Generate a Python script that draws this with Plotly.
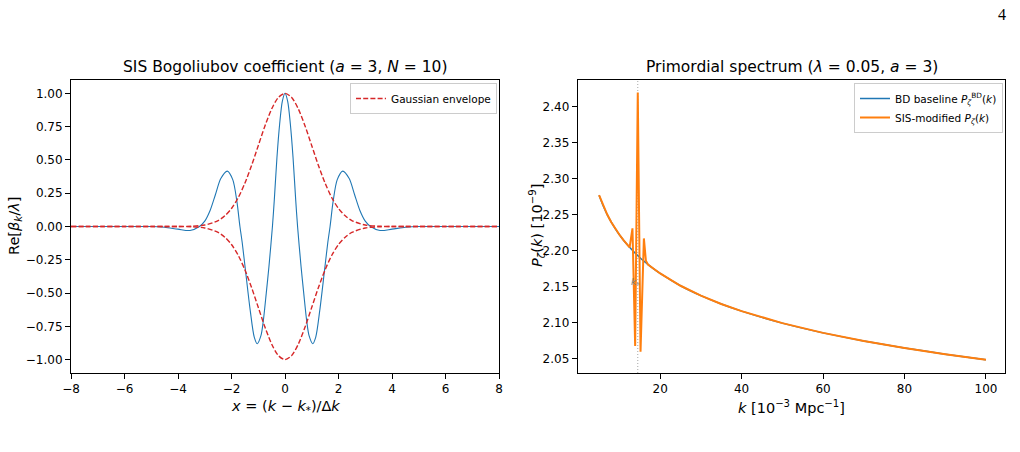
import plotly.graph_objects as go

# ---------------- data: left panel ----------------
x_blue = [-8, -7, -6, -5, -4.5, -4.0, -3.55, -3.2, -3.0, -2.8, -2.6, -2.4, -2.157, -1.95, -1.8, -1.685,
          -1.6, -1.47, -1.3, -1.15, -1.035, -0.9, -0.81, -0.7, -0.6, -0.47, -0.4, -0.3, -0.2, -0.1, 0.0,
          0.1, 0.2, 0.3, 0.4, 0.47, 0.6, 0.7, 0.81, 0.9, 1.035, 1.15, 1.3, 1.47, 1.6, 1.685, 1.8, 1.95,
          2.157, 2.4, 2.6, 2.8, 3.0, 3.2, 3.55, 4.0, 4.5, 5, 6, 7, 8]
re_beta = [0.0, 0.0, 0.0, 0.0, -0.006, -0.02, -0.03, 0.0, 0.04, 0.12, 0.24, 0.36, 0.416, 0.35, 0.19, 0.0,
           -0.12, -0.343, -0.63, -0.83, -0.88, -0.82, -0.707, -0.5, -0.3, 0.0, 0.2, 0.52, 0.77, 0.94, 1.0,
           0.94, 0.77, 0.52, 0.2, 0.0, -0.3, -0.5, -0.707, -0.82, -0.88, -0.83, -0.63, -0.343, -0.12, 0.0, 0.19, 0.35,
           0.416, 0.36, 0.24, 0.12, 0.04, 0.0, -0.03, -0.02, -0.006, 0.0, 0.0, 0.0, 0.0]

x_env = [-8, -6, -5, -4.5, -4, -3.5, -3, -2.5, -2.25, -2, -1.75, -1.5, -1.25, -1, -0.75, -0.5, -0.25, 0,
         0.25, 0.5, 0.75, 1, 1.25, 1.5, 1.75, 2, 2.25, 2.5, 3, 3.5, 4, 4.5, 5, 6, 8]
env_upper = [0.0, 0.0, 0.0, 0.0, 0.0003, 0.0022, 0.011, 0.044, 0.080, 0.135, 0.216, 0.325, 0.458, 0.607, 0.755, 0.882, 0.969, 1.0,
             0.969, 0.882, 0.755, 0.607, 0.458, 0.325, 0.216, 0.135, 0.080, 0.044, 0.011, 0.0022, 0.0003, 0.0, 0.0, 0.0, 0.0]
env_lower = [-v for v in env_upper]

# ---------------- data: right panel ----------------
k_bd = [5, 6, 7, 8, 9, 10, 11, 12, 13, 14, 15, 16, 17, 18, 20, 25, 30, 35, 40, 50, 60, 70, 80, 90, 100]
p_bd = [2.2769, 2.2623, 2.2500, 2.2395, 2.2303, 2.2220, 2.2145, 2.2078, 2.2016, 2.1959, 2.1906, 2.1855,
        2.1809, 2.1765, 2.1684, 2.1514, 2.1377, 2.1261, 2.1162, 2.0996, 2.0861, 2.0749, 2.0652, 2.0566, 2.049]

k_sis = [5, 6, 7, 8, 9, 10, 11, 12, 12.5, 13.2, 13.86, 14.5, 15.18, 16.0, 16.5, 17, 18, 20, 25, 30, 35,
         40, 50, 60, 70, 80, 90, 100]
p_sis = [2.2769, 2.2623, 2.2500, 2.2395, 2.2303, 2.2220, 2.2145, 2.2078, 2.2047, 2.231, 2.068, 2.419, 2.060,
         2.217, 2.186, 2.1809, 2.1765, 2.1684, 2.1514, 2.1377, 2.1261, 2.1162, 2.0996, 2.0861, 2.0749, 2.0652,
         2.0566, 2.049]

k_star = 14.5

left_xticks = [-8, -6, -4, -2, 0, 2, 4, 6, 8]
left_yticks = [-1.0, -0.75, -0.5, -0.25, 0.0, 0.25, 0.5, 0.75, 1.0]
right_xticks = [20, 40, 60, 80, 100]
right_yticks = [2.05, 2.10, 2.15, 2.20, 2.25, 2.30, 2.35, 2.40]

W, H = 1020, 452
FONT = "DejaVu Sans"
BLUE = "#1f77b4"
ORANGE = "#ff7f0e"
RED = "#d62728"

fig = go.Figure()

# left panel
fig.add_trace(go.Scatter(x=x_blue, y=re_beta, mode="lines", line=dict(color=BLUE, width=1.1, shape="spline", smoothing=0.8),
                         showlegend=False, xaxis="x", yaxis="y"))
fig.add_trace(go.Scatter(x=x_env, y=env_upper, mode="lines", name="Gaussian envelope",
                         line=dict(color=RED, width=1.4, dash="5px,2.2px", shape="spline", smoothing=0.8),
                         legend="legend", xaxis="x", yaxis="y"))
fig.add_trace(go.Scatter(x=x_env, y=env_lower, mode="lines", showlegend=False,
                         line=dict(color=RED, width=1.4, dash="5px,2.2px", shape="spline", smoothing=0.8),
                         xaxis="x", yaxis="y"))

# right panel
fig.add_trace(go.Scatter(x=k_bd, y=p_bd, mode="lines", name="BD baseline <i>P</i><sub><i>ζ</i></sub><sup>BD</sup>(<i>k</i>)",
                         line=dict(color=BLUE, width=1.5, shape="spline", smoothing=0.5),
                         legend="legend2", xaxis="x2", yaxis="y2"))
fig.add_trace(go.Scatter(x=k_sis, y=p_sis, mode="lines", name="SIS-modified <i>P</i><sub><i>ζ</i></sub>(<i>k</i>)",
                         line=dict(color=ORANGE, width=2),
                         legend="legend2", xaxis="x2", yaxis="y2"))

y_bot = (H - 373) / H
y_top = (H - 80) / H

axis_common = dict(showline=True, linecolor="black", linewidth=1, mirror=True, ticks="outside",
                   ticklen=5, tickwidth=1, tickcolor="black", showgrid=False, zeroline=False, automargin=False,
                   tickfont=dict(family=FONT, size=12, color="black"))

fig.update_layout(
    width=W, height=H,
    margin=dict(l=0, r=0, t=0, b=0, autoexpand=False),
    paper_bgcolor="white", plot_bgcolor="white",
    font=dict(family=FONT, color="black"),
    xaxis=dict(domain=[71 / W, 499 / W], range=[-8, 8], tickvals=left_xticks, anchor="y", **axis_common),
    yaxis=dict(domain=[y_bot, y_top], range=[-1.1, 1.1], tickvals=left_yticks, tickformat=".2f", anchor="x", **axis_common),
    xaxis2=dict(domain=[577.7 / W, 1005.3 / W], range=[-0.25, 104.75], tickvals=right_xticks, anchor="y2", **axis_common),
    yaxis2=dict(domain=[y_bot, y_top], range=[2.0305, 2.4365], tickvals=right_yticks, tickformat=".2f", anchor="x2", **axis_common),
    legend=dict(x=497 / W, xanchor="right", y=(H - 83) / H, yanchor="top", bgcolor="rgba(255,255,255,0.8)",
                bordercolor="#cccccc", borderwidth=1, font=dict(family=FONT, size=10.5), itemwidth=30),
    legend2=dict(x=1003 / W, xanchor="right", y=(H - 83) / H, yanchor="top", bgcolor="rgba(255,255,255,0.8)",
                 bordercolor="#cccccc", borderwidth=1, font=dict(family=FONT, size=10.5), itemwidth=30),
)

# vertical dotted line at k*
fig.add_shape(type="line", xref="x2", yref="y2 domain", x0=k_star, x1=k_star, y0=0, y1=1,
              line=dict(color="rgba(150,150,150,0.85)", width=1, dash="1px,2px"), layer="below")

ann = []
ann.append(dict(text="SIS Bogoliubov coefficient (<i>a</i> = 3, <i>N</i> = 10)", x=285 / W, y=(H - 67) / H,
                xref="paper", yref="paper", showarrow=False, font=dict(size=15.5, family=FONT), xanchor="center", yanchor="middle"))
ann.append(dict(text="Primordial spectrum (<i>λ</i> = 0.05, <i>a</i> = 3)", x=791.5 / W, y=(H - 67) / H,
                xref="paper", yref="paper", showarrow=False, font=dict(size=15.5, family=FONT), xanchor="center", yanchor="middle"))
ann.append(dict(text="<i>x</i> = (<i>k</i> − <i>k</i><sub>*</sub>)/Δ<i>k</i>", x=285 / W, y=(H - 407) / H,
                xref="paper", yref="paper", showarrow=False, font=dict(size=14.5, family=FONT), xanchor="center", yanchor="middle"))
ann.append(dict(text="<i>k</i> [10<sup>−3</sup> Mpc<sup>−1</sup>]", x=791.5 / W, y=(H - 407) / H,
                xref="paper", yref="paper", showarrow=False, font=dict(size=14.5, family=FONT), xanchor="center", yanchor="middle"))
ann.append(dict(text="Re[<i>β</i><sub><i>k</i></sub>/<i>λ</i>]", x=15 / W, y=(H - 226) / H, textangle=-90,
                xref="paper", yref="paper", showarrow=False, font=dict(size=14.5, family=FONT), xanchor="center", yanchor="middle"))
ann.append(dict(text="<i>P</i><sub><i>ζ</i></sub>(<i>k</i>) [10<sup>−9</sup>]", x=537 / W, y=(H - 226) / H, textangle=-90,
                xref="paper", yref="paper", showarrow=False, font=dict(size=14.5, family=FONT), xanchor="center", yanchor="middle"))
ann.append(dict(text="<i>k</i><sub>*</sub>", x=13.9, y=2.156, xref="x2", yref="y2", showarrow=False,
                font=dict(size=9, family=FONT, color="gray"), xanchor="center", yanchor="middle"))
ann.append(dict(text="4", x=1008 / W, y=(H - 14) / H, xref="paper", yref="paper", showarrow=False,
                font=dict(size=16, family="Liberation Serif", color="black"), xanchor="right", yanchor="middle"))
fig.update_layout(annotations=ann)

fig.write_html("out.html")
